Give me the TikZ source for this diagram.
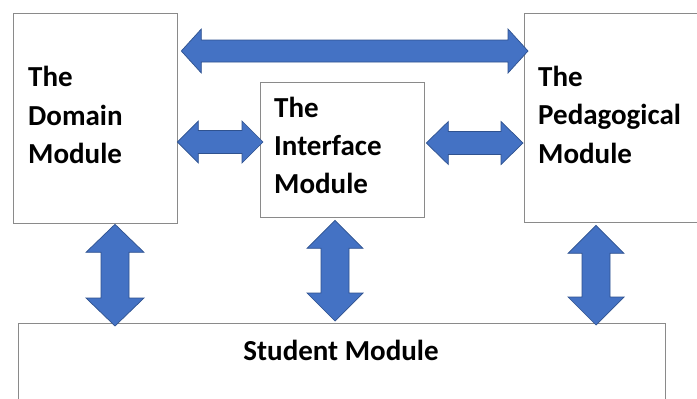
\documentclass[tikz,border=0pt]{standalone}
\usepackage{fontspec}
\setmainfont{Carlito}
\usetikzlibrary{calc}
\definecolor{arrowfill}{HTML}{4472C4}
\definecolor{arrowline}{HTML}{2F528F}
\definecolor{boxline}{HTML}{8A8A8A}

\tikzset{
  box/.style={draw=boxline, line width=1.3pt, fill=white, rectangle, inner sep=0pt, anchor=north west},
  lbl/.style={font=\bfseries\fontsize{29}{34}\selectfont, anchor=base west, inner sep=0pt},
  twoway/.style={fill=arrowfill, draw=arrowline, line width=0.7pt, line join=miter}
}

% horizontal two-headed block arrow: left tip, right tip, body half-width, head half-width, head length
\newcommand\harrow[5]{%
  \draw[twoway] (#1) -- ($(#1)+(#5,#4)$) -- ($(#1)+(#5,#3)$) -- ($(#2)+(-#5,#3)$)
    -- ($(#2)+(-#5,#4)$) -- (#2) -- ($(#2)+(-#5,-#4)$) -- ($(#2)+(-#5,-#3)$)
    -- ($(#1)+(#5,-#3)$) -- ($(#1)+(#5,-#4)$) -- cycle;}
% vertical two-headed block arrow: top tip, bottom tip, body half-width, head half-width, head length
\newcommand\varrow[5]{%
  \draw[twoway] (#1) -- ($(#1)+(#4,#5)$) -- ($(#1)+(#3,#5)$) -- ($(#2)+(#3,-#5)$)
    -- ($(#2)+(#4,-#5)$) -- (#2) -- ($(#2)+(-#4,-#5)$) -- ($(#2)+(-#3,-#5)$)
    -- ($(#1)+(-#3,#5)$) -- ($(#1)+(-#4,#5)$) -- cycle;}

\begin{document}
\begin{tikzpicture}[x=1pt, y=-1pt]
  \useasboundingbox (0,0) rectangle (697,399);
  \clip (0,0) rectangle (697,399);
  \fill[white] (0,0) rectangle (697,399);

  % modules
  \node[box, minimum width=164pt, minimum height=210pt] (domain) at (13,13) {};
  \node[box, minimum width=164pt, minimum height=135pt] (iface) at (260,82) {};
  \node[box, minimum width=200pt, minimum height=209pt] (pedag) at (524,13) {};
  \node[box, minimum width=647pt, minimum height=100pt] (student) at (18,323) {};

  % labels
  \node[lbl] (d1) at (28,86) {The};
  \node[lbl] (d2) at (28,125) {Domain};
  \node[lbl] (d3) at (28,163) {Module};
  \node[lbl] (i1) at (274,117) {The};
  \node[lbl] (i2) at (274,155) {Interface};
  \node[lbl] (i3) at (274,193) {Module};
  \node[lbl] (p1) at (538,86) {The};
  \node[lbl] (p2) at (538,124) {Pedagogical};
  \node[lbl] (p3) at (538,163) {Module};
  \node[lbl, anchor=base] (s1) at (341,360) {Student Module};

  % arrow end points
  \coordinate (dpL) at ($(domain.north east)+(3,38)$);
  \coordinate (dpR) at ($(pedag.north west)+(4,38)$);
  \coordinate (diL) at ($(domain.north east)+(-1,129)$);
  \coordinate (diR) at ($(iface.north west)+(3,60)$);
  \coordinate (ipL) at ($(iface.north east)+(1,61)$);
  \coordinate (ipR) at ($(pedag.north west)+(-1,130)$);
  \coordinate (dsT) at ($(domain.south west)+(102,0)$);
  \coordinate (dsB) at ($(student.north west)+(97,3)$);
  \coordinate (isT) at ($(iface.south west)+(75,2)$);
  \coordinate (isB) at ($(student.north west)+(317,-2)$);
  \coordinate (psT) at ($(pedag.south west)+(72,2)$);
  \coordinate (psB) at ($(student.north west)+(578,2)$);

  % connectors
  \harrow{dpL}{dpR}{11}{22}{20}
  \harrow{diL}{diR}{11.5}{21}{21}
  \harrow{ipL}{ipR}{11.5}{21.5}{22}
  \varrow{dsT}{dsB}{14}{29}{28}
  \varrow{isT}{isB}{14}{28}{28}
  \varrow{psT}{psB}{14}{28}{28}
\end{tikzpicture}
\end{document}
